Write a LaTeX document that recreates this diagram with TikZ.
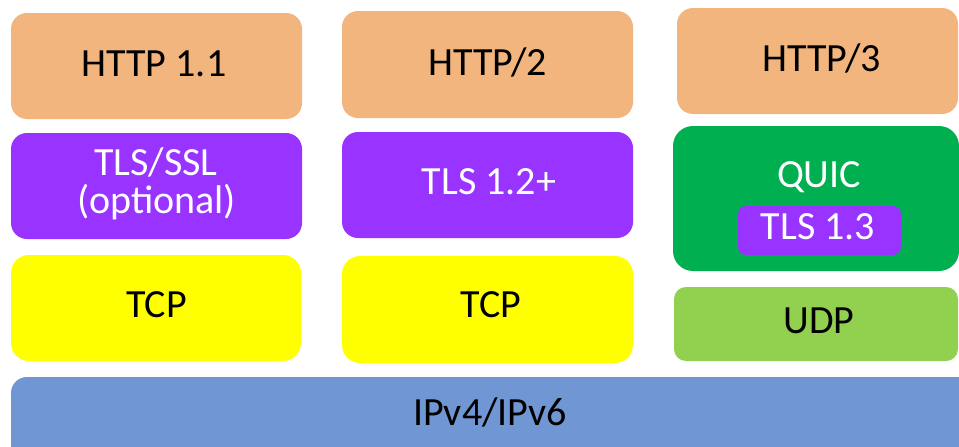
\documentclass[tikz,border=0pt]{standalone}
\usepackage{fontspec}
\setmainfont{Carlito}
\definecolor{httpc}{HTML}{F1B57D}
\definecolor{tlsc}{HTML}{9933FF}
\definecolor{quicc}{HTML}{00B050}
\definecolor{tcpc}{HTML}{FFFF00}
\definecolor{udpc}{HTML}{92D050}
\definecolor{ipc}{HTML}{7097D3}
\begin{document}
\begin{tikzpicture}[x=1pt,y=-1pt,
  box/.style={rectangle, rounded corners=16pt, draw=none, outer sep=0pt, inner sep=0pt},
  lbl/.style={anchor=base, inner sep=0pt, font=\fontsize{40}{48}\selectfont},
  wlbl/.style={lbl, text=white}]
\useasboundingbox (0,0) rectangle (959,447);
\clip (0,0) rectangle (959,447);
% top row
\node[box, fill=httpc, minimum width=291pt, minimum height=106pt] (h1) at (156.5,66) {};
\node[box, fill=httpc, minimum width=291pt, minimum height=107pt] (h2) at (487.5,64.5) {};
\node[box, fill=httpc, minimum width=281pt, minimum height=106pt] (h3) at (817.5,61) {};
% second row
\node[box, fill=tlsc, minimum width=291pt, minimum height=106pt] (t1) at (156.5,186) {};
\node[box, fill=tlsc, minimum width=291pt, minimum height=106pt] (t2) at (487.5,185) {};
\node[box, fill=quicc, rounded corners=20pt, minimum width=286pt, minimum height=145pt] (q) at (816,198.5) {};
\node[box, fill=tlsc, rounded corners=8pt, minimum width=163pt, minimum height=49pt] (t3) at (819.5,230.5) {};
% third row
\node[box, fill=tcpc, rounded corners=18pt, minimum width=290pt, minimum height=106pt] (c1) at (156,308) {};
\node[box, fill=tcpc, rounded corners=18pt, minimum width=291pt, minimum height=107pt] (c2) at (487.5,309.5) {};
\node[box, fill=udpc, rounded corners=12pt, minimum width=284pt, minimum height=74pt] (u) at (816,324) {};
% bottom
\node[box, fill=ipc, rounded corners=16pt, minimum width=969pt, minimum height=93pt] (ip) at (495.5,423.5) {};
% labels
\node[lbl] (h1l) at (154,76) {HTTP 1.1};
\node[lbl] (h2l) at (487.5,75) {HTTP/2};
\node[lbl] (h3l) at (821.5,71) {HTTP/3};
\node[wlbl] (t1a) at (156,175) {TLS/SSL};
\node[wlbl] (t1b) at (156.5,213) {(optional)};
\node[wlbl] (t2l) at (489,194) {TLS 1.2+};
\node[wlbl] (ql) at (819,187) {QUIC};
\node[wlbl] (t3l) at (818,239) {TLS 1.3};
\node[lbl] (c1l) at (156.5,317) {TCP};
\node[lbl] (c2l) at (491,317) {TCP};
\node[lbl] (ul) at (819,333) {UDP};
\node[lbl] (ipl) at (490,425) {IPv4/IPv6};
\end{tikzpicture}
\end{document}
